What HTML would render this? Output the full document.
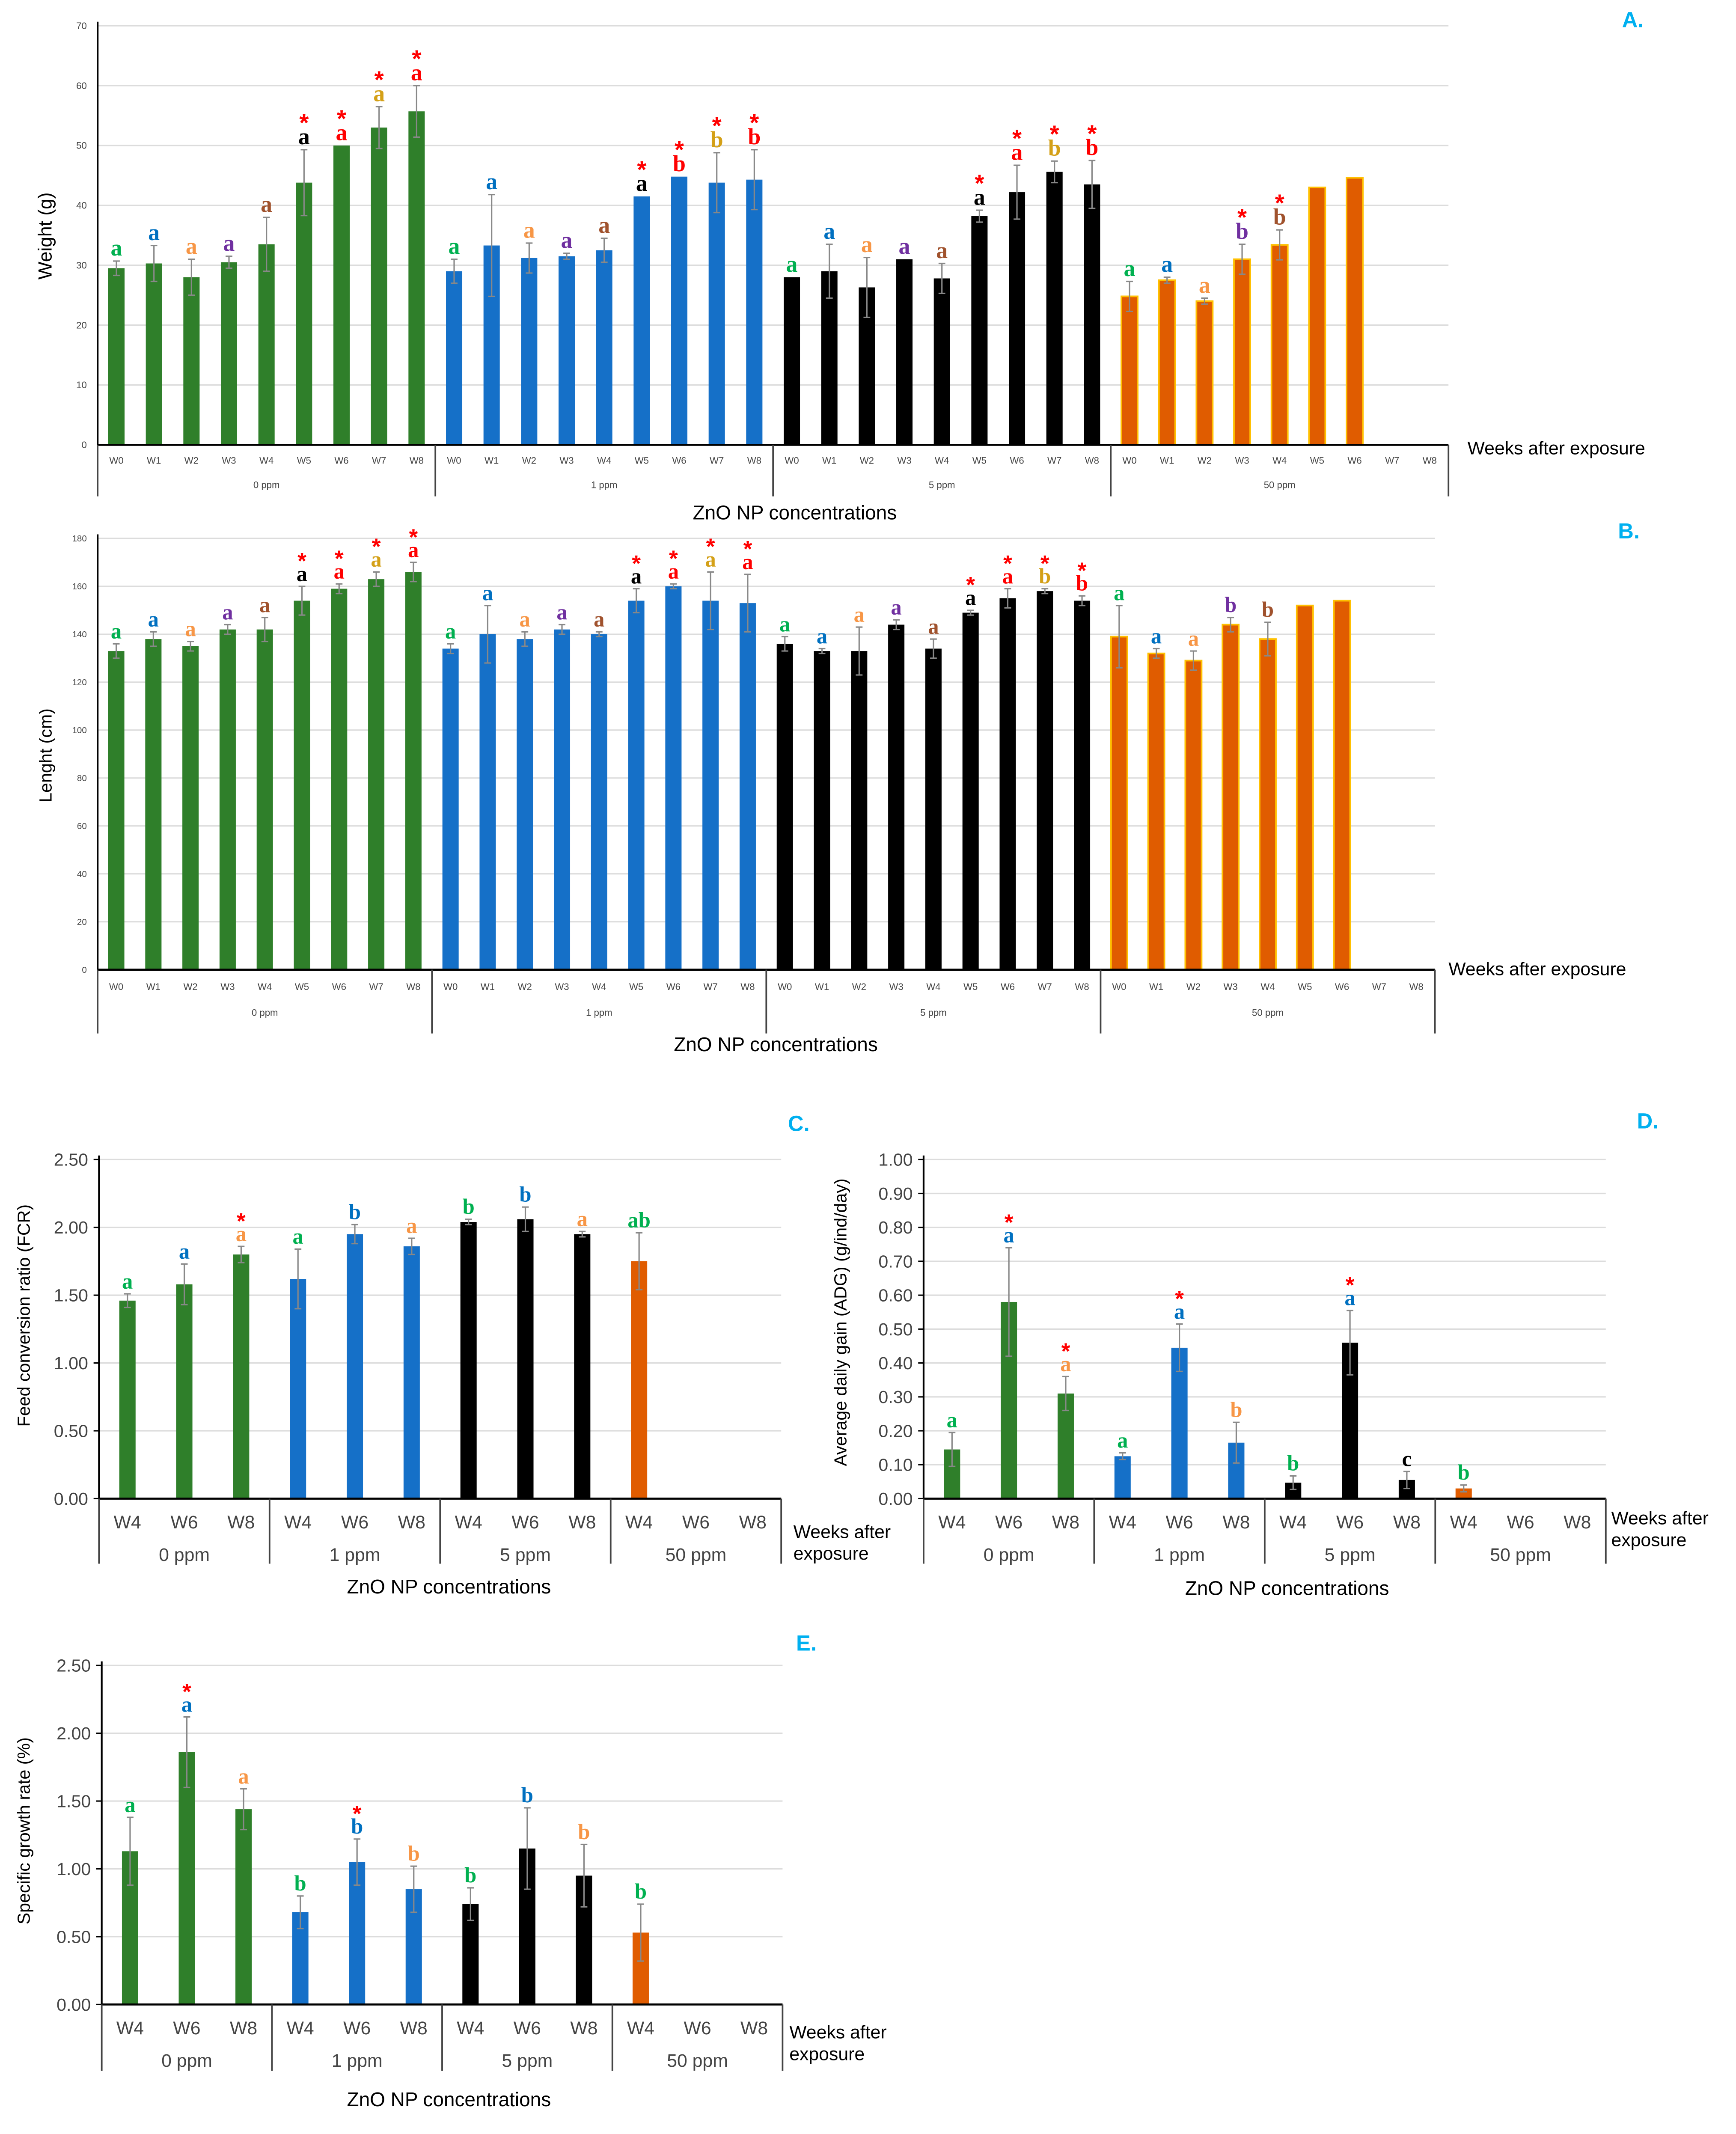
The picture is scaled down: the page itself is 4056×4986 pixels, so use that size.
<!DOCTYPE html>
<html><head><meta charset="utf-8"><style>
html,body{margin:0;padding:0;background:#fff;}
svg{display:block;font-family:"Liberation Sans",sans-serif;}
</style></head><body>
<svg id="fig" xmlns="http://www.w3.org/2000/svg" width="4056" height="4986" viewBox="0 0 1280 1573.5"></svg>
<script>
// ---------- DATA ----------
const groupNames = ["0 ppm","1 ppm","5 ppm","50 ppm"];
const weeksAB = ["W0","W1","W2","W3","W4","W5","W6","W7","W8"];
const weeksCDE = ["W4","W6","W8"];

const weightVals = [29.5,30.3,28,30.5,33.5,43.8,50,53,55.7, 29,33.3,31.2,31.5,32.5,41.5,44.8,43.8,44.3, 28,29,26.3,31,27.8,38.2,42.2,45.6,43.5, 24.8,27.5,24,31,33.4,43,44.6,null,null];
const weightErr = [1.2,3,3,1,4.5,5.5,0,3.5,4.3, 2,8.5,2.5,0.5,2,0,0,5,5, 0,4.5,5,0,2.5,1,4.5,1.8,4, 2.5,0.5,0.5,2.5,2.5,0,0,0,0];
const weightLet = ["a","a","a","a","a","a","a","a","a", "a","a","a","a","a","a","b","b","b", "a","a","a","a","a","a","a","b","b", "a","a","a","b","b","","","",""];
const weightLetCol = ["g","b","o","p","n","k","r","y","r", "g","b","o","p","n","k","r","y","r", "g","b","o","p","n","k","r","y","r", "g","b","o","p","n","","","",""];
const weightStar = [0,0,0,0,0,1,1,1,1, 0,0,0,0,0,1,1,1,1, 0,0,0,0,0,1,1,1,1, 0,0,0,1,1,0,0,0,0];
const weightTicks = [0,10,20,30,40,50,60,70];

const lengthVals = [133,138,135,142,142,154,159,163,166, 134,140,138,142,140,154,160,154,153, 136,133,133,144,134,149,155,158,154, 139,132,129,144,138,152,154,null,null];
const lengthErr = [3,3,2,2,5,6,2,3,4, 2,12,3,2,1,5,1,12,12, 3,1,10,2,4,1,4,1,2, 13,2,4,3,7,0,0,0,0];
const lengthLet = ["a","a","a","a","a","a","a","a","a", "a","a","a","a","a","a","a","a","a", "a","a","a","a","a","a","a","b","b", "a","a","a","b","b","","","",""];
const lengthLetCol = ["g","b","o","p","n","k","r","y","r", "g","b","o","p","n","k","r","y","r", "g","b","o","p","n","k","r","y","r", "g","b","o","p","n","","","",""];
const lengthStar = [0,0,0,0,0,1,1,1,1, 0,0,0,0,0,1,1,1,1, 0,0,0,0,0,1,1,1,1, 0,0,0,0,0,0,0,0,0];
const lengthTicks = [0,20,40,60,80,100,120,140,160,180];

const fcrVals = [1.46,1.58,1.80, 1.62,1.95,1.86, 2.04,2.06,1.95, 1.75,null,null];
const fcrErr = [0.05,0.15,0.06, 0.22,0.07,0.06, 0.02,0.09,0.02, 0.21,0,0];
const fcrLet = ["a","a","a","a","b","a","b","b","a","ab","",""];
const fcrLetCol = ["g","b","o","g","b","o","g","b","o","g","",""];
const fcrStar = [0,0,1,0,0,0,0,0,0,0,0,0];
const fcrTicks = [0,0.5,1,1.5,2,2.5];

const adgVals = [0.145,0.58,0.31, 0.125,0.445,0.165, 0.047,0.46,0.055, 0.03,null,null];
const adgErr = [0.05,0.16,0.05, 0.01,0.07,0.06, 0.02,0.095,0.025, 0.01,0,0];
const adgLet = ["a","a","a","a","a","b","b","a","c","b","",""];
const adgLetCol = ["g","b","o","g","b","o","g","b","k","g","",""];
const adgStar = [0,1,1,0,1,0,0,1,0,0,0,0];
const adgTicks = [0,0.1,0.2,0.3,0.4,0.5,0.6,0.7,0.8,0.9,1.0];

const sgrVals = [1.13,1.86,1.44, 0.68,1.05,0.85, 0.74,1.15,0.95, 0.53,null,null];
const sgrErr = [0.25,0.26,0.15, 0.12,0.17,0.17, 0.12,0.3,0.23, 0.21,0,0];
const sgrLet = ["a","a","a","b","b","b","b","b","b","b","",""];
const sgrLetCol = ["g","b","o","g","b","o","g","b","o","g","",""];
const sgrStar = [0,1,0,0,1,0,0,0,0,0,0,0];
const sgrTicks = [0,0.5,1,1.5,2,2.5];

// ---------- RENDER ----------
const NS = "http://www.w3.org/2000/svg";
const svg = document.getElementById("fig");
const barCols = ["#2f7f2a","#1570c8","#000000","#e05c00"];
const letColors = {g:"#00b050",b:"#0070c0",o:"#f79646",p:"#7030a0",n:"#a0522d",k:"#000000",r:"#ff0000",y:"#d4a017"};
function mk(tag, attrs, parent, text){
  const e = document.createElementNS(NS, tag);
  for (const k in attrs) e.setAttribute(k, attrs[k]);
  if (text !== undefined) e.textContent = text;
  (parent || svg).appendChild(e);
  return e;
}
function panel(c){
  const g = mk("g", {});
  
  
  const tmax = c.ticks[c.ticks.length-1];
  const yS = v => c.yBase - (v / tmax) * (c.yBase - c.yTop);
  const nGroups = groupNames.length, nPer = c.weeks.length;
  const gw = (c.x1 - c.x0) / nGroups, sw = gw / nPer;
  const xC = i => c.x0 + sw * (i + 0.5);
  c.ticks.forEach(t => {
    const y = yS(t);
    if (t > 0) {
      const gl = mk("line", {x1:c.x0, x2:c.x1, y1:y, y2:y, stroke:"#dcdcdc", "stroke-width":1}, g);
      
      
    }
    if (c.tickMark) mk("line", {x1:c.x0-4, x2:c.x0, y1:y, y2:y, stroke:"#000", "stroke-width":1}, g);
    const tl = mk("text", {x:c.x0-8, y:y+c.tickFs*0.35, "text-anchor":"end", "font-size":c.tickFs, fill:"#444"}, g, c.fmt(t));
    
    
  });
  const ya = mk("line", {x1:c.x0, x2:c.x0, y1:c.yTop-3, y2:c.yBase, stroke:"#000", "stroke-width":1.3}, g);
  
  
  c.vals.forEach((v, i) => {
    if (v === null) return;
    const gi = Math.floor(i / nPer);
    const x = xC(i), y = yS(v);
    const r = mk("rect", {x:x-c.bw/2, y:y, width:c.bw, height:c.yBase-y, fill:barCols[gi]}, g);
    if (gi === 3 && c.outline) { r.setAttribute("stroke", "#ffc000"); r.setAttribute("stroke-width", 1.2); }
    
    
    const e = c.errs[i];
    let top = y;
    if (e > 0) {
      const yt = yS(v + e), yb = yS(Math.max(0, v - e));
      const eb = mk("path", {d:`M${x},${yb}V${yt}M${x-2.5},${yt}H${x+2.5}M${x-2.5},${yb}H${x+2.5}`, stroke:"#888", "stroke-width":1, fill:"none"}, g);
      
      
      top = yt;
    }
    let ly = top - 4;
    if (c.lets[i]) {
      const lt = mk("text", {x:x, y:ly, "text-anchor":"middle", "font-size":c.letFs, "font-weight":"bold", "font-family":"'Liberation Serif',serif", fill:letColors[c.letCols[i]]}, g, c.lets[i]);
      
      
      ly -= c.letFs * 0.75;
    }
    if (c.stars[i]) {
      const st = mk("text", {x:x, y:ly+3, "text-anchor":"middle", "font-size":c.letFs*1.05, "font-weight":"bold", fill:"#ff0000"}, g, "*");
      
      
    }
  });
  const xa = mk("line", {x1:c.x0, x2:c.x1, y1:c.yBase, y2:c.yBase, stroke:"#000", "stroke-width":1.5}, g);
  
  
  for (let k = 0; k <= nGroups; k++) {
    const dx = c.x0 + gw * k;
    const dl = mk("line", {x1:dx, x2:dx, y1:c.yBase, y2:c.divBottom, stroke:"#444", "stroke-width":1.2}, g);
    
    
  }
  for (let i = 0; i < nGroups * nPer; i++) {
    const wl = mk("text", {x:xC(i), y:c.catY, "text-anchor":"middle", "font-size":c.catFs, fill:"#444"}, g, c.weeks[i % nPer]);
    
    
  }
  groupNames.forEach((n, k) => {
    const gl = mk("text", {x:c.x0 + gw*(k+0.5), y:c.grpY, "text-anchor":"middle", "font-size":c.grpFs, fill:"#444"}, g, n);
    
    
  });
  const yt = mk("text", {x:0, y:0, transform:`translate(${c.ytX},${c.ytY}) rotate(-90)`, "text-anchor":"middle", "font-size":c.ytFs, fill:"#000"}, g, c.ytitle);
  
  
  const xt = mk("text", {x:c.xtX, y:c.xtY, "text-anchor":"middle", "font-size":14.5, fill:"#000"}, g, "ZnO NP concentrations");
  
  
  const wk = mk("text", {x:c.wkX, y:c.wkY, "font-size":13.5, fill:"#000"}, g);
  
  
  if (c.wkTwo) {
    mk("tspan", {x:c.wkX, dy:0}, wk, "Weeks after");
    mk("tspan", {x:c.wkX, dy:16}, wk, "exposure");
  } else wk.textContent = "Weeks after exposure";
  const pl = mk("text", {x:c.plX, y:c.plY, "font-size":16, "font-weight":"bold", fill:"#00b0f0"}, g, c.plabel);
  
  
}

panel({name:"weight-chart", x0:72, x1:1068, yTop:19, yBase:328, ticks:weightTicks, fmt:t=>String(t), tickFs:7, tickMark:false,
  weeks:weeksAB, vals:weightVals, errs:weightErr, lets:weightLet, letCols:weightLetCol, stars:weightStar, bw:12, letFs:17, outline:true,
  catY:342, catFs:7, grpY:360, grpFs:7, divBottom:366, ytitle:"Weight (g)", ytX:38, ytY:174, ytFs:14,
  xtX:586, xtY:383, wkX:1082, wkY:335, wkTwo:false, plX:1196, plY:20, plabel:"A."});
panel({name:"length-chart", x0:72, x1:1058, yTop:397, yBase:715, ticks:lengthTicks, fmt:t=>String(t), tickFs:6.5, tickMark:false,
  weeks:weeksAB, vals:lengthVals, errs:lengthErr, lets:lengthLet, letCols:lengthLetCol, stars:lengthStar, bw:12, letFs:16, outline:true,
  catY:730, catFs:7, grpY:749, grpFs:7, divBottom:762, ytitle:"Lenght (cm)", ytX:38, ytY:557, ytFs:13,
  xtX:572, xtY:775, wkX:1068, wkY:719, wkTwo:false, plX:1193, plY:397, plabel:"B."});
panel({name:"fcr-chart", x0:73, x1:576, yTop:855, yBase:1105, ticks:fcrTicks, fmt:t=>t.toFixed(2), tickFs:13, tickMark:true,
  weeks:weeksCDE, vals:fcrVals, errs:fcrErr, lets:fcrLet, letCols:fcrLetCol, stars:fcrStar, bw:12, letFs:16, outline:false,
  catY:1127, catFs:13.5, grpY:1151, grpFs:13.5, divBottom:1153, ytitle:"Feed conversion ratio (FCR)", ytX:22, ytY:970, ytFs:13,
  xtX:331, xtY:1175, wkX:585, wkY:1134, wkTwo:true, plX:581, plY:834, plabel:"C."});
panel({name:"adg-chart", x0:681, x1:1184, yTop:855, yBase:1105, ticks:adgTicks, fmt:t=>t.toFixed(2), tickFs:13, tickMark:true,
  weeks:weeksCDE, vals:adgVals, errs:adgErr, lets:adgLet, letCols:adgLetCol, stars:adgStar, bw:12, letFs:16, outline:false,
  catY:1127, catFs:13.5, grpY:1151, grpFs:13.5, divBottom:1153, ytitle:"Average daily gain (ADG) (g/ind/day)", ytX:624, ytY:975, ytFs:13,
  xtX:949, xtY:1176, wkX:1188, wkY:1124, wkTwo:true, plX:1207, plY:832, plabel:"D."});
panel({name:"sgr-chart", x0:75, x1:577, yTop:1228, yBase:1478, ticks:sgrTicks, fmt:t=>t.toFixed(2), tickFs:13, tickMark:true,
  weeks:weeksCDE, vals:sgrVals, errs:sgrErr, lets:sgrLet, letCols:sgrLetCol, stars:sgrStar, bw:12, letFs:16, outline:false,
  catY:1500, catFs:13.5, grpY:1524, grpFs:13.5, divBottom:1527, ytitle:"Specific growth rate (%)", ytX:22, ytY:1350, ytFs:13,
  xtX:331, xtY:1553, wkX:582, wkY:1503, wkTwo:true, plX:587, plY:1217, plabel:"E."});
</script>
</body></html>
